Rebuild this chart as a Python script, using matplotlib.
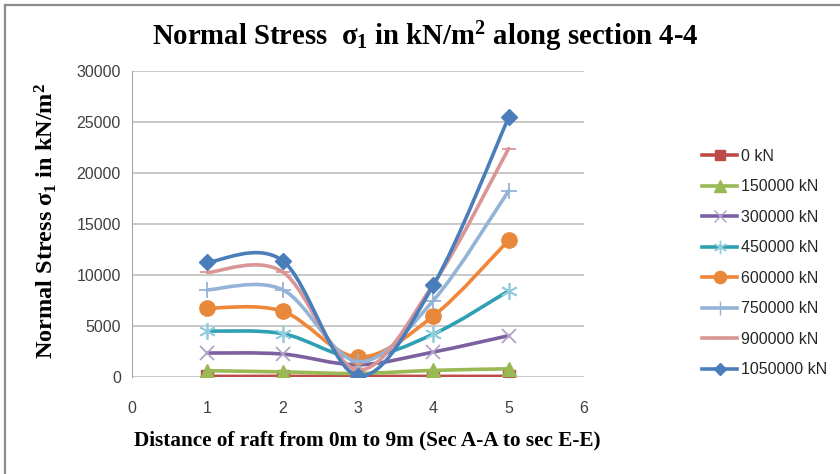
import numpy as np
import matplotlib
matplotlib.use('Agg')
import matplotlib.pyplot as plt
from matplotlib.path import Path
from matplotlib.patches import PathPatch
from matplotlib.lines import Line2D

plt.rcParams['mathtext.fontset'] = 'custom'
plt.rcParams['mathtext.rm'] = 'Liberation Serif:bold'
plt.rcParams['mathtext.it'] = 'Liberation Serif:bold'
plt.rcParams['mathtext.bf'] = 'Liberation Serif:bold'

# data
x_pos = [1, 2, 3, 4, 5]
labels = ['0 kN', '150000 kN', '300000 kN', '450000 kN',
          '600000 kN', '750000 kN', '900000 kN', '1050000 kN']
s_0 = [60, 60, 60, 60, 60]
s_150 = [620, 500, 350, 650, 800]
s_300 = [2350, 2250, 1200, 2450, 4050]
s_450 = [4500, 4250, 1900, 4200, 8450]
s_600 = [6750, 6450, 1950, 5980, 13400]
s_750 = [8550, 8550, 1500, 7500, 18250]
s_900 = [10250, 10300, 700, 9100, 22400]
s_1050 = [11250, 11400, 120, 9000, 25450]
series = [s_0, s_150, s_300, s_450, s_600, s_750, s_900, s_1050]

line_colors = ['#BE4B48', '#98B954', '#7D60A0', '#2FA0B4',
               '#F0863A', '#95B3D7', '#D99694', '#4A7EBB']
marker_colors = ['#BE4B48', '#98B954', '#B3A2C7', '#93CDDD',
                 '#E8883A', '#95B3D7', '#D99694', '#4A7EBB']
markers = ['s', '^', 'x', (6, 2, 0), 'o', '+', '_', 'D']
marker_sizes = [9, 10, 10, 12, 11, 12, 10, 8]
y_ticks = [0, 5000, 10000, 15000, 20000, 25000, 30000]
x_ticks = [0, 1, 2, 3, 4, 5, 6]


def smooth_path(xs, ys):
    # Excel-style smoothed line: cubic Bezier segments through the points
    pts = np.column_stack([xs, ys]).astype(float)
    n = len(pts)
    verts = [pts[0]]
    codes = [Path.MOVETO]
    for i in range(n - 1):
        p_prev = pts[i - 1] if i > 0 else pts[i]
        p_next2 = pts[i + 2] if i + 2 < n else pts[i + 1]
        c1 = pts[i] + (pts[i + 1] - p_prev) / 6.0
        c2 = pts[i + 1] - (p_next2 - pts[i]) / 6.0
        verts += [c1, c2, pts[i + 1]]
        codes += [Path.CURVE4] * 3
    return Path(verts, codes)


serif = ['Liberation Serif', 'DejaVu Serif']
sans = ['Liberation Sans', 'DejaVu Sans']

fig = plt.figure(figsize=(8.4, 4.74), dpi=100)
ax = fig.add_axes([132 / 840, 1 - 377 / 474, 452 / 840, 306 / 474])

for i, ys in enumerate(series):
    patch = PathPatch(smooth_path(x_pos, ys), facecolor='none',
                      edgecolor=line_colors[i], lw=2.6, zorder=2 + i,
                      capstyle='round', joinstyle='round')
    ax.add_patch(patch)
    thin = markers[i] in ['x', '+', '_'] or isinstance(markers[i], tuple)
    ax.plot(x_pos, ys, linestyle='none', marker=markers[i],
            markersize=marker_sizes[i], color=marker_colors[i],
            markeredgecolor=marker_colors[i], markeredgewidth=1.3 if thin else 1,
            zorder=2.5 + i)

ax.set_xlim(0, 6)
ax.set_ylim(0, 30000)
ax.set_xticks(x_ticks)
ax.set_yticks(y_ticks)
ax.grid(axis='y', color='#BFBFBF', lw=1.2)
ax.set_axisbelow(True)
for sp in ['top', 'right', 'bottom']:
    ax.spines[sp].set_visible(False)
ax.spines['left'].set_color('#A6A6A6')
ax.tick_params(length=0, labelsize=11.5, labelcolor='#404040', pad=8)
for t in ax.get_xticklabels() + ax.get_yticklabels():
    t.set_family(sans)
ax.tick_params(axis='x', pad=17)

fig.text(0.506, 0.922, r'Normal Stress  $σ_1$ in kN/m$^2$ along section 4-4',
         ha='center', va='center', fontsize=20.7, fontweight='bold', family=serif)
fig.text(0.054, 0.534, r'Normal Stress $σ_1$ in kN/m$^2$',
         ha='center', va='center', rotation=90, fontsize=17.5, fontweight='bold', family=serif)
fig.text(0.437, 0.07, 'Distance of raft from 0m to 9m (Sec A-A to sec E-E)',
         ha='center', va='center', fontsize=15.3, fontweight='bold', family=serif)

handles = []
for i in range(len(series)):
    handles.append(Line2D([], [], color=line_colors[i], lw=2.6, marker=markers[i],
                          markersize=marker_sizes[i] * 0.8, markerfacecolor=marker_colors[i],
                          markeredgecolor=marker_colors[i]))
leg = fig.legend(handles, labels, loc='upper left', bbox_to_anchor=(0.819, 0.716),
                 frameon=False, numpoints=1, handlelength=2.2, handletextpad=0.2,
                 labelspacing=0.97, prop={'family': sans, 'size': 11.5})
for t in leg.get_texts():
    t.set_color('#262626')

# chart area border (top and left edges visible)
fig.add_artist(Line2D([4.5 / 840, 4.5 / 840], [0, 1 - 4.5 / 474], transform=fig.transFigure,
                      color='#8C8C8C', lw=1.6))
fig.add_artist(Line2D([4.5 / 840, 1], [1 - 4.5 / 474, 1 - 4.5 / 474], transform=fig.transFigure,
                      color='#8C8C8C', lw=1.6))

fig.savefig('out.png', dpi=100)
